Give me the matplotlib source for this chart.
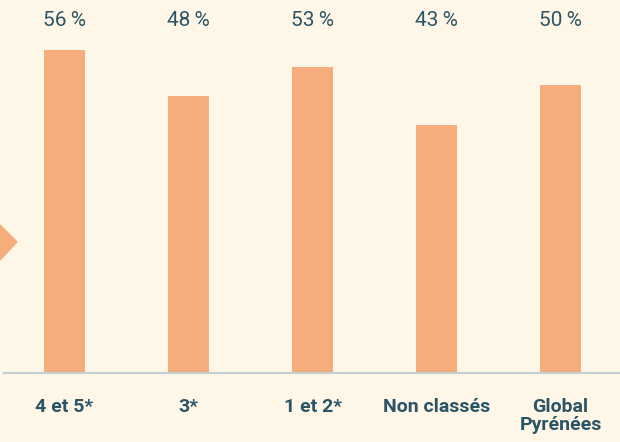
import numpy as np
import matplotlib.pyplot as plt
from matplotlib.patches import Polygon
from matplotlib import font_manager

# Data
categories = ['4 et 5*', '3*', '1 et 2*', 'Non classés', 'Global\nPyrénées']
values = [56, 48, 53, 43, 50]

bg = '#fef6e6'
bar_color = '#f5ae7b'
text_color = '#2b5566'

names = {f.name for f in font_manager.fontManager.ttflist}
bold_family = 'Liberation Sans Narrow' if 'Liberation Sans Narrow' in names else 'Roboto'

fig = plt.figure(figsize=(6.2, 4.42), dpi=100, facecolor=bg)
ax = fig.add_axes([0, 69 / 442, 1, 1 - 69 / 442])
ax.set_facecolor(bg)

x = np.arange(len(categories))
ax.bar(x, values, width=0.33, color=bar_color, zorder=2)
ax.set_xlim(-64.5 / 124, (620 - 64.5) / 124)
ax.set_ylim(0, 373 / 5.77)

for xi, v in zip(x, values):
    ax.text(xi, (373 - 20) / 5.77, f'{v}\u2009%', ha='center', va='center',
            fontsize=15, color=text_color, family=['Roboto', 'DejaVu Sans'])

ax.axhline(0, xmin=4 / 620, xmax=1, color='#c5cfd2', lw=1.5, zorder=3, clip_on=False)

for xi, c in zip(x, categories):
    ax.annotate(c, xy=(xi, 0), xytext=(0, -25), textcoords='offset pixels',
                ha='center', va='top', fontsize=14, fontweight='bold',
                color=text_color, family=bold_family, linespacing=1.0,
                annotation_clip=False)

for s in ax.spines.values():
    s.set_visible(False)
ax.set_xticks([])
ax.set_yticks([])

# arrow marker on the left edge
tri = Polygon([[0, 442 - 225], [17, 442 - 242], [0, 442 - 260]], closed=True,
              transform=None, color=bar_color)
fig.patches.append(tri)

fig.savefig('out.png', dpi=100, facecolor=bg)
